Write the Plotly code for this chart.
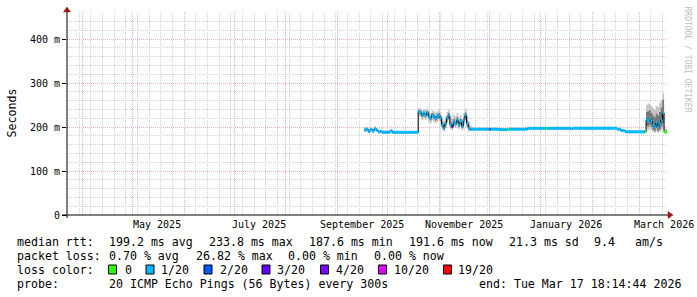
import plotly.graph_objects as go

# ---------------- data ----------------
dates = [
    "2025-09-17 00:00", "2025-09-18 05:00", "2025-09-19 10:00", "2025-09-20 14:00",
    "2025-09-21 19:00", "2025-09-23 00:00", "2025-09-24 05:00", "2025-09-25 10:00",
    "2025-09-26 14:00", "2025-09-27 19:00", "2025-10-01 00:00", "2025-10-02 12:00",
    "2025-10-04 00:00", "2025-10-12 00:00",
    "2025-10-19 12:00", "2025-10-20 12:00", "2025-10-21 12:00", "2025-10-22 12:00",
    "2025-10-23 12:00", "2025-10-24 12:00", "2025-10-25 12:00", "2025-10-26 12:00",
    "2025-10-27 12:00", "2025-10-28 12:00", "2025-10-29 12:00", "2025-10-30 12:00",
    "2025-10-31 12:00", "2025-11-01 12:00", "2025-11-02 12:00", "2025-11-03 12:00",
    "2025-11-04 12:00", "2025-11-05 12:00", "2025-11-06 12:00", "2025-11-07 12:00",
    "2025-11-08 12:00", "2025-11-09 12:00", "2025-11-10 12:00", "2025-11-11 12:00",
    "2025-11-12 12:00", "2025-11-13 12:00", "2025-11-14 12:00", "2025-11-15 12:00",
    "2025-11-16 12:00", "2025-11-17 12:00", "2025-11-18 12:00", "2025-11-19 12:00",
    "2025-11-20 12:00",
    "2025-11-21 12:00", "2025-12-01 00:00", "2025-12-02 00:00", "2025-12-07 12:00",
    "2025-12-12 00:00", "2025-12-13 00:00", "2025-12-24 00:00", "2026-01-04 00:00",
    "2026-01-05 00:00", "2026-01-19 00:00", "2026-01-20 00:00", "2026-02-15 18:00",
    "2026-02-18 00:00", "2026-02-20 12:00", "2026-03-04 12:00",
    "2026-03-05 05:00", "2026-03-06 00:00", "2026-03-07 00:00", "2026-03-08 00:00",
    "2026-03-09 00:00", "2026-03-10 00:00", "2026-03-11 00:00", "2026-03-12 00:00",
    "2026-03-13 00:00", "2026-03-14 00:00", "2026-03-15 00:00", "2026-03-16 00:00",
    "2026-03-17 18:14:44",
]
median_ms = [
    193, 195, 190, 194, 191, 196, 193, 189, 190, 188, 188, 191, 188, 188,
    235, 233, 227, 231, 227, 233, 224, 220, 227, 224, 220, 224, 227, 220, 205, 197,
    208, 220, 227, 205, 201, 212, 208, 216, 205, 212, 201, 216, 227, 208, 197, 195, 195,
    195, 195, 195, 194, 195, 195, 197, 197, 197, 196, 197, 195, 192, 189, 189,
    216, 214, 219, 213, 205, 201, 210, 201, 208, 216, 232, 189, 189,
]
smoke_lo = [
    189, 190, 186, 189, 187, 190, 188, 186, 186, 185, 185, 186, 185, 185,
    224, 222, 216, 220, 216, 222, 212, 208, 216, 212, 208, 212, 216, 208, 196, 190,
    198, 208, 216, 196, 193, 202, 198, 205, 196, 202, 193, 205, 214, 198, 190, 191, 192,
    193, 193, 193, 192, 193, 193, 195, 195, 195, 194, 195, 193, 190, 187, 187,
    195, 192, 196, 192, 188, 186, 190, 186, 189, 192, 196, 186, 186,
]
smoke_hi = [
    199, 200, 196, 200, 197, 201, 198, 194, 194, 192, 192, 194, 191, 191,
    243, 242, 238, 241, 238, 242, 236, 232, 238, 236, 233, 236, 238, 233, 222, 214,
    224, 234, 240, 222, 218, 228, 224, 232, 222, 228, 218, 232, 242, 226, 212, 204, 200,
    198, 198, 198, 197, 198, 198, 200, 200, 200, 199, 200, 198, 195, 192, 192,
    250, 254, 252, 248, 244, 240, 248, 246, 255, 262, 277, 196, 192,
]
core_lo = [
    191, 193, 188, 192, 189, 193, 191, 187, 188, 187, 187, 189, 187, 187,
    230, 228, 222, 226, 222, 228, 219, 215, 222, 219, 215, 219, 222, 215, 200, 193,
    203, 215, 222, 200, 197, 207, 203, 211, 200, 207, 197, 211, 221, 203, 194, 193, 194,
    194, 194, 194, 193, 194, 194, 196, 196, 196, 195, 196, 194, 191, 188, 188,
    203, 201, 205, 200, 194, 191, 197, 191, 195, 201, 208, 188, 188,
]
core_hi = [
    196, 197, 193, 197, 194, 198, 195, 191, 192, 190, 190, 192, 190, 190,
    239, 237, 232, 235, 232, 237, 229, 225, 232, 229, 225, 229, 232, 225, 211, 203,
    213, 225, 232, 211, 207, 218, 213, 222, 211, 218, 207, 222, 233, 214, 203, 198, 197,
    196, 196, 196, 195, 196, 196, 198, 198, 198, 197, 198, 196, 193, 190, 190,
    234, 236, 238, 232, 226, 222, 230, 226, 234, 244, 262, 192, 190,
]
loss_class = [
    1, 1, 1, 1, 1, 1, 1, 1, 1, 1, 1, 1, 1, 1,
    1, 1, 1, 1, 1, 1, 1, 1, 1, 1, 1, 1, 1, 1, 1, 1,
    1, 1, 1, 1, 3, 1, 1, 1, 1, 1, 1, 1, 1, 1, 1, 1, 1,
    1, 2, 1, 1, 0, 1, 1, 0, 1, 1, 1, 1, 1, 1, 0,
    1, 1, 1, 1, 1, 1, 1, 1, 1, 1, 1, 0, 0,
]

x_start = "2025-03-22 18:14:44"
x_end = "2026-03-17 18:14:44"
month_starts = ["2025-04-01", "2025-05-01", "2025-06-01", "2025-07-01", "2025-08-01",
                "2025-09-01", "2025-10-01", "2025-11-01", "2025-12-01", "2026-01-01",
                "2026-02-01", "2026-03-01"]
label_dates = ["2025-05-16", "2025-07-16", "2025-09-16", "2025-11-16", "2026-01-16", "2026-03-16"]
label_text = ["May 2025", "July 2025", "September 2025", "November 2025", "January 2026", "March 2026"]
y_tick_vals = [0, 100, 200, 300, 400]
y_tick_text = ["0", "100 m", "200 m", "300 m", "400 m"]

loss_colors = {0: "#26ff00", 1: "#00b8ff", 2: "#0059ff", 3: "#5e00ff",
               4: "#7e00ff", 10: "#dd00ff", 19: "#ff0000"}
legend_loss_labels = ["0", "1/20", "2/20", "3/20", "4/20", "10/20", "19/20"]
legend_loss_keys = [0, 1, 2, 3, 4, 10, 19]

stats_rtt = ["199.2 ms avg", "233.8 ms max", "187.6 ms min", "191.6 ms now", "21.3 ms sd", "9.4", "am/s"]
stats_loss = ["0.70 % avg", "26.82 % max", "0.00 % min", "0.00 % now"]
probe_text = "20 ICMP Echo Pings (56 Bytes) every 300s"
end_text = "end: Tue Mar 17 18:14:44 2026"

# ---------------- geometry ----------------
W, H = 697, 297
L, R, T, B = 67, 667, 12, 215
MONO = "DejaVu Sans Mono"


def px(x):
    return (x - L) / (R - L)


def py(y):
    return (B - y) / (B - T)


fig = go.Figure()

# smoke
fig.add_trace(go.Scatter(x=dates, y=smoke_lo, mode="lines", line=dict(width=0, shape="hv"),
                         hoverinfo="skip"))
fig.add_trace(go.Scatter(x=dates, y=smoke_hi, mode="lines", line=dict(width=0, shape="hv"),
                         fill="tonexty", fillcolor="#c6c6c6", hoverinfo="skip"))
fig.add_trace(go.Scatter(x=dates, y=core_lo, mode="lines", line=dict(width=0, shape="hv"),
                         hoverinfo="skip"))
fig.add_trace(go.Scatter(x=dates, y=core_hi, mode="lines", line=dict(width=0, shape="hv"),
                         fill="tonexty", fillcolor="#767676", hoverinfo="skip"))
# thin black median
fig.add_trace(go.Scatter(x=dates, y=median_ms, mode="lines",
                         line=dict(width=1, shape="hv", color="#000000")))
# coloured median by loss class
for key in sorted(set(loss_class)):
    xs, ys = [], []
    for i in range(len(dates) - 1):
        if loss_class[i] == key:
            xs += [dates[i], dates[i + 1], None]
            ys += [median_ms[i], median_ms[i], None]
    fig.add_trace(go.Scatter(x=xs, y=ys, mode="lines",
                             line=dict(width=3, color=loss_colors[key])))

grid_minor = "#d3d3d3"
grid_major = "#efb4b4"
dash = "1px,1px"

fig.update_layout(
    width=W, height=H,
    margin=dict(l=L, r=W - R, t=T, b=H - B, pad=0),
    paper_bgcolor="#ffffff", plot_bgcolor="#ffffff",
    showlegend=False,
    font=dict(family=MONO, size=10, color="#000000"),
    xaxis=dict(
        type="date", range=[x_start, x_end],
        tickmode="array", tickvals=month_starts, showticklabels=False, ticks="",
        showgrid=True, gridcolor=grid_major, griddash=dash, gridwidth=1,
        minor=dict(tick0="2025-03-23", dtick=7 * 86400000, showgrid=True,
                   gridcolor=grid_minor, griddash=dash, gridwidth=1),
        showline=False, zeroline=False, fixedrange=True,
    ),
    yaxis=dict(
        range=[0, 461.4],
        tickmode="array", tickvals=y_tick_vals, ticktext=y_tick_text,
        ticks="outside", ticklen=4, tickcolor="#000000", tickwidth=1,
        tickfont=dict(family=MONO, size=10, color="#000000"),
        showgrid=True, gridcolor=grid_major, griddash=dash, gridwidth=1,
        minor=dict(tick0=0, dtick=20, showgrid=True, gridcolor=grid_minor,
                   griddash=dash, gridwidth=1),
        showline=False, zeroline=False, fixedrange=True,
    ),
)

shapes = []
axis_col = "#000000"
arrow_col = "#9a1414"
# axis lines
shapes.append(dict(type="line", xref="paper", yref="paper", x0=px(62), x1=px(668),
                   y0=py(215), y1=py(215), line=dict(color=axis_col, width=1), layer="above"))
shapes.append(dict(type="line", xref="paper", yref="paper", x0=px(67), x1=px(67),
                   y0=py(218), y1=py(11), line=dict(color=axis_col, width=1), layer="above"))
# arrows
shapes.append(dict(type="path", xref="paper", yref="paper",
                   path=f"M {px(668)},{py(211.5)} L {px(673)},{py(215)} L {px(668)},{py(218.5)} Z",
                   fillcolor=arrow_col, line=dict(color=arrow_col, width=0.5), layer="above"))
shapes.append(dict(type="path", xref="paper", yref="paper",
                   path=f"M {px(63.5)},{py(12)} L {px(67)},{py(7)} L {px(70.5)},{py(12)} Z",
                   fillcolor=arrow_col, line=dict(color=arrow_col, width=0.5), layer="above"))

annotations = []
# x tick labels (centered mid-month)
for d, t in zip(label_dates, label_text):
    annotations.append(dict(x=d, xref="x", y=py(224.5), yref="paper", text=t,
                            showarrow=False, xanchor="center", yanchor="middle",
                            font=dict(family=MONO, size=10, color="#000000"), borderpad=0))
# y axis title
annotations.append(dict(x=px(11), y=py(113.5), xref="paper", yref="paper", text="Seconds",
                        textangle=-90, showarrow=False, xanchor="center", yanchor="middle",
                        font=dict(family=MONO, size=11.6, color="#000000"), borderpad=0))
# watermark
annotations.append(dict(x=px(687.5), y=py(59), xref="paper", yref="paper",
                        text="RRDTOOL / TOBI OETIKER", textangle=90, showarrow=False,
                        xanchor="center", yanchor="middle",
                        font=dict(family=MONO, size=8, color="#bdbdbd"), borderpad=0))

LF = 11.6
rows_y = [241.5, 255.5, 269.5, 283.5]


def txt(x, y, s, anchor="left"):
    annotations.append(dict(x=px(x), y=py(y), xref="paper", yref="paper", text=s,
                            showarrow=False, xanchor=anchor, yanchor="middle", borderpad=0,
                            font=dict(family=MONO, size=LF, color="#000000")))


txt(16, rows_y[0], "median rtt:")
for x, s in zip([108, 207.5, 308, 408, 508, 593, 634], stats_rtt):
    txt(x, rows_y[0], s)
txt(16, rows_y[1], "packet loss:")
for x, s in zip([108, 194.5, 287, 373], stats_loss):
    txt(x, rows_y[1], s)
txt(16, rows_y[2], "loss color:")
box_x = [108.5, 146, 204, 262, 320.5, 378.5, 443.5]
text_x = [123.5, 160, 218.5, 276, 334.5, 392.5, 457]
for bx, tx, lab, key in zip(box_x, text_x, legend_loss_labels, legend_loss_keys):
    shapes.append(dict(type="rect", xref="paper", yref="paper",
                       x0=px(bx), x1=px(bx + 8), y0=py(rows_y[2] + 4.5), y1=py(rows_y[2] - 4.5),
                       fillcolor=loss_colors[key], line=dict(color="#000000", width=1)))
    txt(tx, rows_y[2], lab)
txt(16, rows_y[3], "probe:")
txt(108, rows_y[3], probe_text)
txt(681.5, rows_y[3], end_text, anchor="right")

fig.update_layout(shapes=shapes, annotations=annotations)
fig.write_html("out.html")
